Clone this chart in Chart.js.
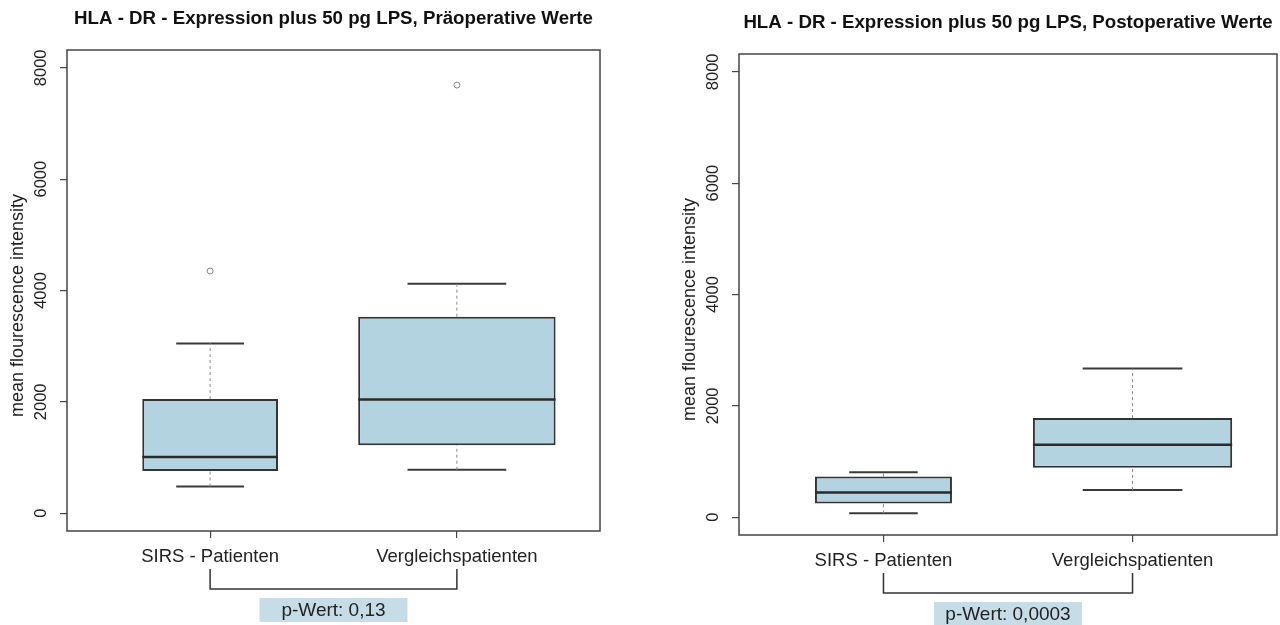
<!DOCTYPE html>
<html>
<head>
<meta charset="utf-8">
<script src="https://cdn.jsdelivr.net/npm/chart.js@4.4.0/dist/chart.umd.min.js"></script>
<style>
  html, body { margin: 0; padding: 0; background: #fff; }
  #wrap { position: relative; width: 1280px; height: 625px; }
  canvas { position: absolute; top: 0; }
</style>
</head>
<body>
<div id="wrap">
  <canvas id="pre" width="640" height="625" style="left:0"></canvas>
  <canvas id="post" width="640" height="625" style="left:640px"></canvas>
</div>
<script>
// Gruppen und Achse
const groups = ['SIRS - Patienten', 'Vergleichspatienten'];
const yTicks = [0, 2000, 4000, 6000, 8000];
const yLabel = 'mean flourescence intensity';

// Boxplot-Werte: [unterer Whisker, Q1, Median, Q3, oberer Whisker]
const preSirs = [480, 760, 1010, 2050, 3050];
const preVergleich = [780, 1220, 2040, 3530, 4120];
const preSirsOutliers = [4350];
const preVergleichOutliers = [7690];
const preTitle = 'HLA - DR - Expression plus 50 pg LPS, Präoperative Werte';
const preP = 'p-Wert: 0,13';

const postSirs = [70, 245, 445, 730, 805];
const postVergleich = [490, 890, 1300, 1780, 2670];
const postSirsOutliers = [];
const postVergleichOutliers = [];
const postTitle = 'HLA - DR - Expression plus 50 pg LPS, Postoperative Werte';
const postP = 'p-Wert: 0,0003';

// Stil
const FONT = '"Liberation Sans", Arial, Helvetica, sans-serif';
const boxFill = '#b4d3e0';
const boxEdge = '#333';
const boxWidth = [0.55, 0.8]; // relative Breite (varwidth)
Chart.defaults.font.family = FONT;
Chart.defaults.color = '#222';

function seg(data, extra) {
    return Object.assign({
        type: 'line',
        data: data,
        borderColor: '#3a3a3a',
        borderWidth: 2,
        pointRadius: 0,
        fill: false,
        order: 1
    }, extra || {});
}

function boxDatasets(allStats, allOutliers) {
    const ds = [];
    allStats.forEach((s, i) => {
        const x = i + 1;
        const w = boxWidth[i];
        const [lo, q1, med, q3, hi] = s;
        ds.push({
            type: 'bar',
            data: [{ x: x, y: [q1, q3] }],
            backgroundColor: boxFill,
            borderColor: boxEdge,
            borderWidth: 2,
            borderSkipped: false,
            grouped: false,
            categoryPercentage: 1,
            barPercentage: w,
            order: 2
        });
        // Whisker gestrichelt
        const dash = { borderColor: '#888', borderWidth: 1, borderDash: [3, 3] };
        ds.push(seg([{ x: x, y: q3 }, { x: x, y: hi }], dash));
        ds.push(seg([{ x: x, y: lo }, { x: x, y: q1 }], dash));
        // Querstriche
        ds.push(seg([{ x: x - w / 4, y: hi }, { x: x + w / 4, y: hi }]));
        ds.push(seg([{ x: x - w / 4, y: lo }, { x: x + w / 4, y: lo }]));
        // Median
        ds.push(seg([{ x: x - w / 2, y: med }, { x: x + w / 2, y: med }], { borderWidth: 2.5, borderColor: '#2a2a2a', order: 0 }));
        // Ausreißer
        ds.push({
            type: 'scatter',
            data: allOutliers[i].map(v => ({ x: x, y: v })),
            pointStyle: 'circle',
            pointRadius: 3,
            borderColor: '#888',
            backgroundColor: 'rgba(0,0,0,0)',
            borderWidth: 1,
            order: 0
        });
    });
    return ds;
}

// Rahmen, Titel, y-Beschriftung, Klammer mit p-Wert
const decoPlugin = {
    id: 'deco',
    afterDraw(chart, args, opts) {
        const { ctx, chartArea, scales } = chart;
        ctx.save();
        ctx.strokeStyle = '#444';
        ctx.lineWidth = 1.5;
        ctx.strokeRect(chartArea.left, chartArea.top, chartArea.right - chartArea.left, chartArea.bottom - chartArea.top);

        const cxArea = (chartArea.left + chartArea.right) / 2;
        ctx.fillStyle = '#111';
        ctx.font = 'bold 18.7px ' + FONT;
        ctx.textAlign = 'center';
        ctx.textBaseline = 'middle';
        ctx.fillText(opts.title, cxArea, opts.titleY);

        // y-Achsentitel
        ctx.save();
        ctx.translate(opts.ylabX, (chartArea.top + chartArea.bottom) / 2 + 15);
        ctx.rotate(-Math.PI / 2);
        ctx.fillStyle = '#222';
        ctx.font = '18px ' + FONT;
        ctx.fillText(yLabel, 0, 0);
        ctx.restore();

        const x1 = scales.x.getPixelForValue(1);
        const x2 = scales.x.getPixelForValue(2);
        const top = chartArea.bottom + 38;
        const bot = chartArea.bottom + 58;
        ctx.strokeStyle = '#333';
        ctx.lineWidth = 1.5;
        ctx.beginPath();
        ctx.moveTo(x1, top);
        ctx.lineTo(x1, bot);
        ctx.lineTo(x2, bot);
        ctx.lineTo(x2, top);
        ctx.stroke();

        const cx = (x1 + x2) / 2;
        ctx.fillStyle = '#c6dde8';
        ctx.fillRect(cx - 74, bot + 9, 148, 24);
        ctx.fillStyle = '#222';
        ctx.font = '19px ' + FONT;
        ctx.fillText(opts.p, cx, bot + 21.5);
        ctx.restore();
    }
};

function makeChart(id, stats, outliers, title, p, geo) {
    new Chart(document.getElementById(id), {
        type: 'bar',
        data: { datasets: boxDatasets(stats, outliers) },
        plugins: [decoPlugin],
        options: {
            responsive: false,
            animation: false,
            devicePixelRatio: 1,
            layout: { padding: { left: 0, right: geo.right, top: geo.top, bottom: 0 } },
            plugins: {
                legend: { display: false },
                tooltip: { enabled: false },
                deco: { title: title, p: p, titleY: geo.titleY, ylabX: geo.ylabX }
            },
            scales: {
                x: {
                    type: 'linear',
                    min: 0.42,
                    max: 2.58,
                    offset: false,
                    afterBuildTicks: s => { s.ticks = groups.map((g, i) => ({ value: i + 1 })); },
                    afterFit: s => { s.height = geo.xHeight; },
                    ticks: {
                        callback: (v, i) => groups[i],
                        font: { size: 18.5 },
                        padding: 8,
                        maxRotation: 0,
                        autoSkip: false
                    },
                    grid: { offset: false, drawOnChartArea: false, tickLength: 7, color: '#444', lineWidth: 1.2 },
                    border: { display: false }
                },
                y: {
                    type: 'linear',
                    min: -320,
                    max: 8320,
                    afterBuildTicks: s => { s.ticks = yTicks.map(v => ({ value: v })); },
                    afterFit: s => { s.width = geo.yWidth; },
                    ticks: {
                        callback: v => String(v),
                        minRotation: 90,
                        maxRotation: 90,
                        crossAlign: 'center',
                        padding: 0,
                        font: { size: 16.5 }
                    },
                    grid: { drawOnChartArea: false, tickLength: 7, color: '#444', lineWidth: 1.2 },
                    border: { display: false }
                }
            }
        }
    });
}

makeChart('pre', [preSirs, preVergleich], [preSirsOutliers, preVergleichOutliers], preTitle, preP,
    { right: 40, top: 50, xHeight: 94, yWidth: 67, titleY: 19, ylabX: 18 });
makeChart('post', [postSirs, postVergleich], [postSirsOutliers, postVergleichOutliers], postTitle, postP,
    { right: 3, top: 54, xHeight: 90, yWidth: 99, titleY: 23, ylabX: 50 });
</script>
</body>
</html>
